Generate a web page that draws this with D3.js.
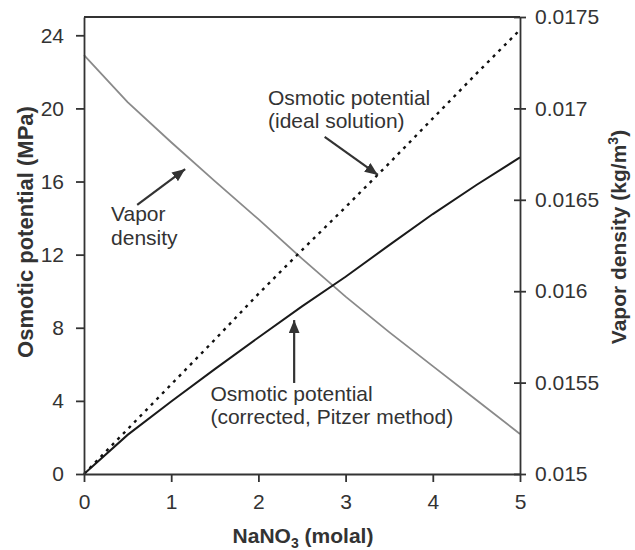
<!DOCTYPE html>
<html>
<head>
<meta charset="utf-8">
<script src="https://cdn.jsdelivr.net/npm/d3@7"></script>
<style>
  html, body { margin: 0; padding: 0; background: #fff; }
  svg text { font-family: Arial, "Liberation Sans", sans-serif; fill: #333; }
</style>
</head>
<body>
<svg id="chart" width="635" height="550"></svg>
<script>
// ---- data ----
const molality = [0, 0.5, 1, 1.5, 2, 2.5, 3, 3.5, 4, 4.5, 5];
const osmoticIdeal = [0, 2.45, 4.9, 7.35, 9.85, 12.25, 14.6, 17.0, 19.45, 21.9, 24.3];
const osmoticPitzer = [0, 2.14, 3.97, 5.74, 7.47, 9.17, 10.79, 12.52, 14.22, 15.81, 17.32];
const vaporDensity = [0.017291, 0.017034, 0.016815, 0.016602, 0.016394, 0.016178,
                      0.015970, 0.015776, 0.015590, 0.015405, 0.015219];
const xTicks = [0, 1, 2, 3, 4, 5];
const yLeftTicks = [0, 4, 8, 12, 16, 20, 24];
const yRightTicks = [0.015, 0.0155, 0.016, 0.0165, 0.017, 0.0175];
const yRightLabels = ["0.015", "0.0155", "0.016", "0.0165", "0.017", "0.0175"];

// annotations in data units (x: molal, y: MPa on left axis)
const annotations = [
  { lines: ["Vapor", "density"], tx: 0.31, ty: [13.84, 12.53], from: [0.61, 14.72], to: [1.16, 16.68] },
  { lines: ["Osmotic potential", "(ideal solution)"], tx: 2.11, ty: [20.19, 18.93], from: [2.76, 18.44], to: [3.37, 16.36] },
  { lines: ["Osmotic potential", "(corrected, Pitzer method)"], tx: 1.45, ty: [3.99, 2.74], from: [2.41, 4.98], to: [2.41, 8.42] }
];

// ---- layout ----
const mLeft = 84, mRight = 520, mTop = 17, mBottom = 474;
const svg = d3.select("#chart");
const x = d3.scaleLinear().domain([0, 5]).range([mLeft, mRight]);
const yL = d3.scaleLinear().domain([0, 25]).range([mBottom, mTop]);
const yR = d3.scaleLinear().domain([0.015, 0.0175]).range([mBottom, mTop]);
const axisColor = "#333";
const fs = 21;

// defs: arrowhead
svg.append("defs").append("marker")
  .attr("id", "arrow").attr("viewBox", "0 0 12 10")
  .attr("refX", 12).attr("refY", 5)
  .attr("markerWidth", 13).attr("markerHeight", 11)
  .attr("markerUnits", "userSpaceOnUse")
  .attr("orient", "auto")
  .append("path").attr("d", "M0,0 L12,5 L0,10 Z").attr("fill", "#333");

// lines
const lineL = (vals) => d3.line().x((d, i) => x(molality[i])).y(d => yL(d))(vals);
const lineR = d3.line().x((d, i) => x(molality[i])).y(d => yR(d));

svg.append("path").attr("d", lineR(vaporDensity))
  .attr("fill", "none").attr("stroke", "#8a8a8a").attr("stroke-width", 1.8);
svg.append("path").attr("d", lineL(osmoticPitzer))
  .attr("fill", "none").attr("stroke", "#1a1a1a").attr("stroke-width", 2);
svg.append("path").attr("d", lineL(osmoticIdeal))
  .attr("fill", "none").attr("stroke", "#111").attr("stroke-width", 2.4)
  .attr("stroke-dasharray", "3,5");

// frame top line
svg.append("line").attr("x1", mLeft).attr("x2", mRight).attr("y1", mTop).attr("y2", mTop)
  .attr("stroke", axisColor).attr("stroke-width", 1.8);

// axes
function styleAxis(g) {
  g.select(".domain").attr("stroke", axisColor).attr("stroke-width", 1.8);
  g.selectAll(".tick line").attr("stroke", axisColor).attr("stroke-width", 1.8);
  g.selectAll(".tick text").attr("font-size", fs).attr("fill", "#333")
    .attr("font-family", "Arial, 'Liberation Sans', sans-serif");
}

const gx = svg.append("g").attr("transform", `translate(0,${mBottom})`)
  .call(d3.axisBottom(x).tickValues(xTicks).tickFormat(d3.format("d")).tickSizeInner(8).tickSizeOuter(0).tickPadding(12));
styleAxis(gx);

const gyl = svg.append("g").attr("transform", `translate(${mLeft},0)`)
  .call(d3.axisLeft(yL).tickValues(yLeftTicks).tickFormat(d3.format("d")).tickSizeInner(8).tickSizeOuter(0).tickPadding(12));
styleAxis(gyl);

const gyr = svg.append("g").attr("transform", `translate(${mRight},0)`)
  .call(d3.axisRight(yR).tickValues(yRightTicks).tickFormat((d, i) => yRightLabels[i]).tickSizeInner(6).tickSizeOuter(0).tickPadding(9));
gyr.selectAll(".tick line").attr("x1", -6);
styleAxis(gyr);

// axis titles
const xt = svg.append("text").attr("x", (mLeft + mRight) / 2 + 1).attr("y", 543)
  .attr("text-anchor", "middle").attr("font-size", fs).attr("font-weight", "bold");
xt.append("tspan").text("NaNO");
xt.append("tspan").text("3").attr("font-size", 14).attr("dy", 5);
xt.append("tspan").text(" (molal)").attr("dy", -5);

svg.append("text").attr("transform", `translate(33,232) rotate(-90)`)
  .attr("text-anchor", "middle").attr("font-size", 22).attr("font-weight", "bold")
  .text("Osmotic potential (MPa)");

const yrt = svg.append("text").attr("transform", `translate(626,237) rotate(-90)`)
  .attr("text-anchor", "middle").attr("font-size", fs).attr("font-weight", "bold");
yrt.append("tspan").text("Vapor density (kg/m");
yrt.append("tspan").text("3").attr("font-size", 14).attr("dy", -8);
yrt.append("tspan").text(")").attr("dy", 8);

// annotations
annotations.forEach(a => {
  a.lines.forEach((t, i) => {
    svg.append("text").attr("x", x(a.tx)).attr("y", yL(a.ty[i]))
      .attr("font-size", fs).text(t);
  });
  svg.append("line")
    .attr("x1", x(a.from[0])).attr("y1", yL(a.from[1]))
    .attr("x2", x(a.to[0])).attr("y2", yL(a.to[1]))
    .attr("stroke", "#333").attr("stroke-width", 2.2)
    .attr("marker-end", "url(#arrow)");
});
</script>
</body>
</html>
